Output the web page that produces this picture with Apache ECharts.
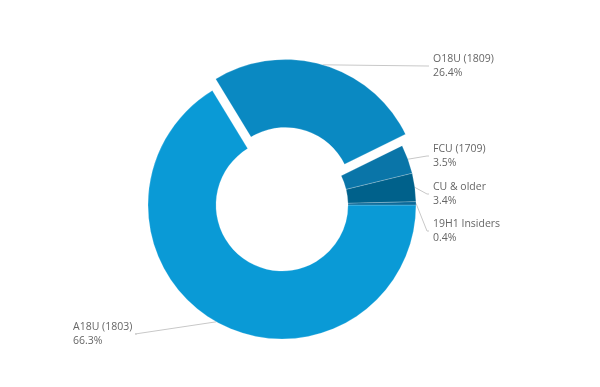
<!DOCTYPE html>
<html>
<head>
<meta charset="utf-8">
<script src="https://cdn.jsdelivr.net/npm/echarts@6/dist/echarts.min.js"></script>
<style>html,body{margin:0;padding:0;background:#fff}#c{width:600px;height:387px}</style>
</head>
<body>
<div id="c"></div>
<script>
const categories = ['A18U (1803)', 'O18U (1809)', 'FCU (1709)', 'CU & older', '19H1 Insiders'];
const shares = [66.3, 26.4, 3.5, 3.4, 0.4];
const colors = ['#0a9ad6', '#0a89c2', '#0a75a8', '#00618b', '#0a6a9a'];
const explodedIndex = 1;

// label anchor: [text left x, block centre y, line end x]
const labelPos = [
  [73, 334, 137],
  [433, 66, 429],
  [433, 156, 429],
  [433, 194, 429],
  [433, 231, 429]
];

const CENTER = [282, 205];
const OFFSET = 12;

const baseSeries = {
  type: 'pie',
  center: CENTER,
  radius: [66, 134],
  startAngle: 0,
  clockwise: true,
  avoidLabelOverlap: false,
  emphasis: {disabled: true},
  itemStyle: {borderColor: 'rgba(255,255,255,0.35)', borderWidth: 0.6}
};

const chart = echarts.init(document.getElementById('c'), null, {renderer: 'canvas'});
chart.setOption({
  animation: false,
  series: [
    Object.assign({}, baseSeries, {
      selectedMode: false,
      label: {
        show: true,
        color: '#666',
        fontFamily: '"Open Sans", sans-serif',
        fontSize: 10.5,
        lineHeight: 14,
        formatter: p => p.name + '\n' + p.value.toFixed(1) + '%'
      },
      labelLine: {show: true, length: 10, length2: 10, lineStyle: {color: '#c8c8c8', width: 1}},
      labelLayout: function (params) {
        const i = params.dataIndex;
        const pos = labelPos[i];
        let p0 = params.labelLinePoints ? params.labelLinePoints[0].slice() : [pos[2], pos[1]];
        if (i === explodedIndex) {
          const dx = p0[0] - CENTER[0], dy = p0[1] - CENTER[1];
          const len = Math.sqrt(dx * dx + dy * dy) || 1;
          p0 = [p0[0] + dx / len * OFFSET, p0[1] + dy / len * OFFSET];
        }
        return {
          x: pos[0], y: pos[1], align: 'left', verticalAlign: 'middle',
          labelLinePoints: [p0, [pos[2] - 2, pos[1]], [pos[2], pos[1]]]
        };
      },
      data: categories.map((c, i) => ({
        name: c,
        value: shares[i],
        itemStyle: i === explodedIndex ? {color: 'rgba(0,0,0,0)', borderWidth: 0} : {color: colors[i]}
      }))
    }),
    Object.assign({}, baseSeries, {
      selectedMode: 'single',
      selectedOffset: OFFSET,
      label: {show: false},
      labelLine: {show: false},
      select: {itemStyle: {borderColor: 'rgba(255,255,255,0.35)', borderWidth: 0.6}},
      data: categories.map((c, i) => ({
        name: c,
        value: shares[i],
        selected: i === explodedIndex,
        itemStyle: i === explodedIndex ? {color: colors[i]} : {color: 'rgba(0,0,0,0)', borderWidth: 0}
      }))
    })
  ]
});
</script>
</body>
</html>
